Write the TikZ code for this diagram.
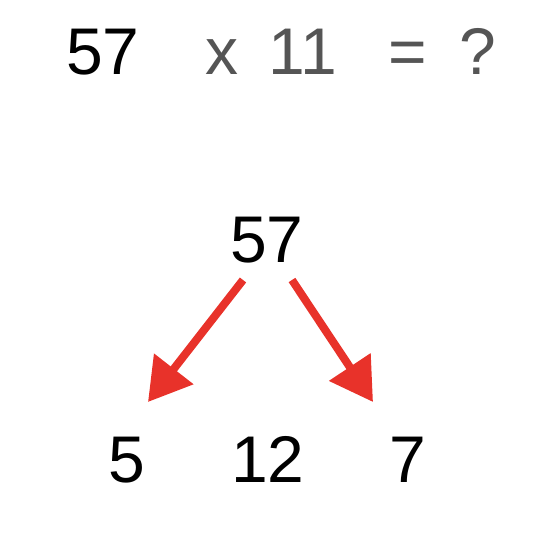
\documentclass[tikz,border=0pt]{standalone}
\usepackage{fontspec}
\setmainfont{Liberation Sans}
\usetikzlibrary{arrows.meta}
\definecolor{splitred}{HTML}{E8322A}
\definecolor{opgray}{HTML}{555555}

\begin{document}
\begin{tikzpicture}[x=1pt,y=-1pt,
    num/.style={anchor=base,inner sep=0pt,font=\fontsize{66}{70}\selectfont},
    op/.style={num,text=opgray},
    split/.style={-{Triangle[length=42pt,width=48pt]},line width=8pt,draw=splitred}]
  \useasboundingbox (0,0) rectangle (542,534);

  % question
  \node[num] (lhs) at (103,75) {57};
  \node[op] (times) at (222,75) {x};
  \node[op] (eleven) at (303,75) {11};
  \node[op] (eq) at (408,75) {=};
  \node[op] (ask) at (478,75) {?};

  % split 57
  \node[num] (whole) at (267,263) {57};
  \node[num] (tens) at (127,483) {5};
  \node[num] (sum) at (268,483) {12};
  \node[num] (ones) at (408,483) {7};

  % arrows
  \coordinate (lfoot) at (243,280);
  \coordinate (rfoot) at (292,280);
  \coordinate (ltip) at (148,402);
  \coordinate (rtip) at (373,402);
  \draw[split] (lfoot) -- (ltip);
  \draw[split] (rfoot) -- (rtip);
\end{tikzpicture}
\end{document}
